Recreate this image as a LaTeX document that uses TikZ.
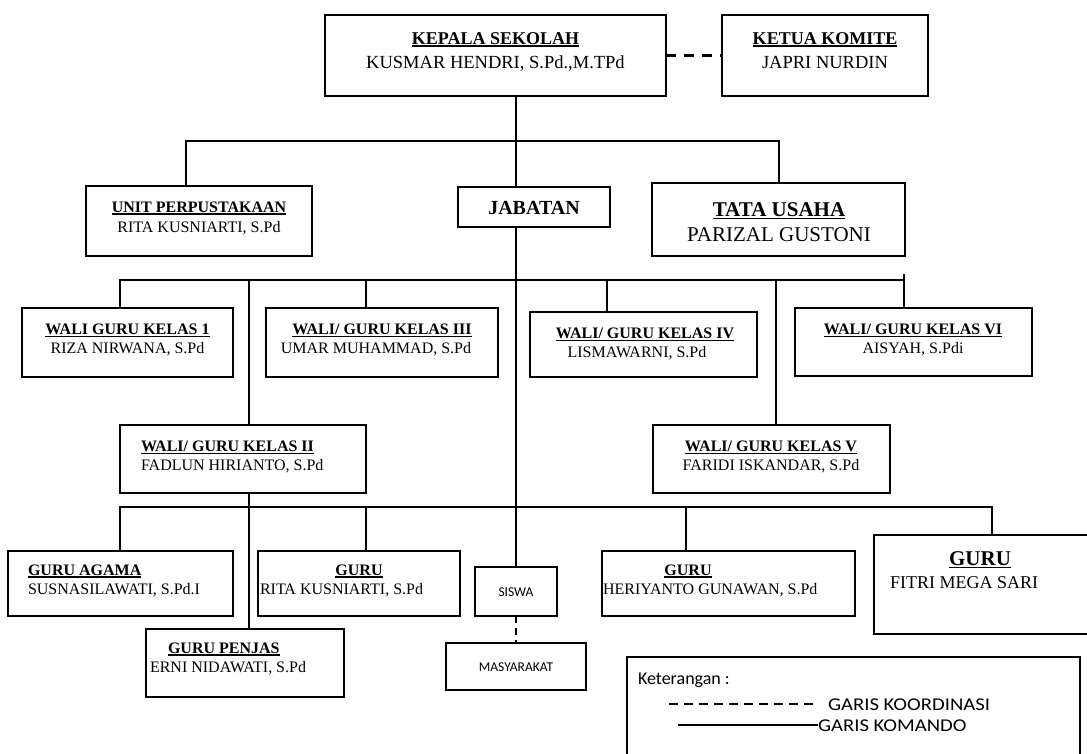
\documentclass[tikz,border=0pt]{standalone}
\usepackage{fontspec}
\usepackage{graphicx}
\setmainfont{Liberation Serif}
\newfontfamily\calfont{Carlito}
\newcommand{\fs}[1]{\fontsize{#1}{#1}\selectfont}
\newcommand{\myul}[1]{\vtop{\hbox{#1}\kern1.3pt\hrule height 1.5pt}}
\newcommand{\boxat}[5]{\node[box, minimum width={#4-#2}, minimum height={#5-#3}] (#1) at ({(#2+#4)/2},{(#3+#5)/2}) {};}
\begin{document}
\begin{tikzpicture}[x=1pt,y=-1pt,
  box/.style={draw, line width=1.8pt, inner sep=0pt, outer sep=0pt},
  conn/.style={line width=1.5pt},
  koord/.style={line width=2.6pt, dash pattern=on 10pt off 8pt},
  koordb/.style={line width=1.4pt, dash pattern=on 7pt off 5pt},
  t/.style={inner sep=0pt, outer sep=0pt, anchor=base},
  tw/.style={inner sep=0pt, outer sep=0pt, anchor=base west},
  hd/.style={font=\fs{16}\bfseries},
  nm/.style={font=\fs{16}},
  cal/.style={font=\calfont\fs{13.5}},
  lg/.style={font=\calfont\fs{18}}
]
\useasboundingbox (0,0) rectangle (1087,753);
\clip (0,0) rectangle (1087,753);

% ---------- boxes ----------
\boxat{kepala}{325}{15}{666}{96}
\boxat{ketua}{722}{15}{928}{96}
\boxat{unit}{86}{186}{312}{256}
\boxat{jab}{458}{187}{610}{227}
\boxat{tata}{652}{183}{905}{256}
\boxat{kA}{22}{308}{233}{377}
\boxat{kC}{266}{308}{498}{377}
\boxat{kD}{530}{312}{757}{377}
\boxat{kF}{795}{308}{1032}{376}
\boxat{kB}{120}{425}{366}{493}
\boxat{kE}{653}{425}{890}{493}
\boxat{agama}{8}{551}{233}{616}
\boxat{rita}{258}{551}{460}{616}
\boxat{siswa}{475}{567}{557}{616}
\boxat{heri}{602}{551}{855}{616}
\boxat{fitri}{874}{535}{1100}{634}
\boxat{penjas}{146}{629}{344}{697}
\boxat{masy}{446}{643}{586}{690}
\boxat{leg}{627}{657}{1080}{780}

% ---------- texts ----------
\node[t,font=\fs{18}\bfseries] (kepalaA) at (495.5,44) {\myul{KEPALA SEKOLAH}};
\node[t,font=\fs{18.5}] (kepalaB) at (495.5,68) {KUSMAR HENDRI, S.Pd.,M.TPd};
\node[t,font=\fs{18}\bfseries] (ketuaA) at (825,44) {\myul{KETUA KOMITE}};
\node[t,font=\fs{18.5}] (ketuaB) at (825,68) {JAPRI NURDIN};

\node[t,hd] (unitA) at (199,212) {\myul{UNIT PERPUSTAKAAN}};
\node[t,nm] (unitB) at (199,232) {RITA KUSNIARTI, S.Pd};
\node[t,font=\fs{20}\bfseries] (jabA) at (534,214) {JABATAN};
\node[t,font=\fs{21}\bfseries] (tataA) at (779,216) {\myul{TATA USAHA}};
\node[t,font=\fs{21}] (tataB) at (779,241) {PARIZAL GUSTONI};

\node[t,hd] (kAa) at (127.5,334) {\myul{WALI GURU KELAS 1}};
\node[t,nm] (kAb) at (127.5,353) {RIZA NIRWANA, S.Pd};
\node[t,hd] (kCa) at (382,334) {\myul{WALI/ GURU KELAS III}};
\node[t,nm] (kCb) at (376,353) {UMAR MUHAMMAD, S.Pd};
\node[t,hd] (kDa) at (645,338) {\myul{WALI/ GURU KELAS IV}};
\node[t,nm] (kDb) at (637,357) {LISMAWARNI, S.Pd};
\node[t,hd] (kFa) at (913,334) {\myul{WALI/ GURU KELAS VI}};
\node[t,nm] (kFb) at (913,353) {AISYAH, S.Pdi};
\node[tw,hd] (kBa) at (141,451) {\myul{WALI/ GURU KELAS II}};
\node[tw,nm] (kBb) at (141,470) {FADLUN HIRIANTO, S.Pd};
\node[t,hd] (kEa) at (771,451) {\myul{WALI/ GURU KELAS V}};
\node[t,nm] (kEb) at (771,470) {FARIDI ISKANDAR, S.Pd};

\node[tw,hd] (agamaA) at (28,575) {\myul{GURU AGAMA}};
\node[tw,nm] (agamaB) at (28,594) {SUSNASILAWATI, S.Pd.I};
\node[t,hd] (ritaA) at (359,575) {\myul{GURU}};
\node[tw,nm] (ritaB) at (260,594) {RITA KUSNIARTI, S.Pd};
\node[t,cal] (siswaA) at (516,596) {SISWA};
\node[t,hd] (heriA) at (688,575) {\myul{GURU}};
\node[tw,nm] (heriB) at (603,594) {HERIYANTO GUNAWAN, S.Pd};
\node[t,font=\fs{21}\bfseries] (fitriA) at (980,565) {\myul{GURU}};
\node[tw,font=\fs{18}] (fitriB) at (890,588) {FITRI MEGA SARI};
\node[tw,hd] (penjasA) at (168,653) {\myul{GURU PENJAS}};
\node[tw,nm] (penjasB) at (150,672) {ERNI NIDAWATI, S.Pd};
\node[t,cal] (masyA) at (516,671) {MASYARAKAT};

\node[tw,lg] (legA) at (638,684) {Keterangan :};
\node[tw,lg] (legB) at (828,710) {\scalebox{1.15}[1]{GARIS KOORDINASI}};
\node[tw,lg] (legC) at (818,731) {\scalebox{1.15}[1]{GARIS KOMANDO}};

% ---------- bus coordinates ----------
\coordinate (m1) at (516,141);
\coordinate (u1) at (186,141);
\coordinate (t1) at (779,141);
\coordinate (r2L) at (120,280);
\coordinate (r2R) at (904,280);
\coordinate (r2T) at (904,274);
\coordinate (c2b) at (249,280);
\coordinate (c2c) at (366,280);
\coordinate (c2d) at (607,280);
\coordinate (c2e) at (776,280);
\coordinate (r3L) at (120,507);
\coordinate (r3R) at (992,507);
\coordinate (c3b) at (249,507);
\coordinate (c3c) at (366,507);
\coordinate (c3d) at (686,507);
\coordinate (lg1) at (669,704);
\coordinate (lg2) at (678,725);

% ---------- connectors ----------
\draw[koord] (kepala.east) -- (ketua.west);
\draw[conn] (kepala.south -| m1) -- (jab.north -| m1);
\draw[conn] (unit.north -| u1) -- (u1) -- (t1) -- (tata.north -| t1);
\draw[conn] (jab.south -| m1) -- (siswa.north);
\draw[conn] (kA.north -| r2L) -- (r2L) -- (r2R);
\draw[conn] (r2T) -- (kF.north -| r2T);
\draw[conn] (c2b) -- (kB.north -| c2b);
\draw[conn] (c2c) -- (kC.north -| c2c);
\draw[conn] (c2d) -- (kD.north -| c2d);
\draw[conn] (c2e) -- (kE.north -| c2e);
\draw[conn] (agama.north -| r3L) -- (r3L) -- (r3R) -- (fitri.north -| r3R);
\draw[conn] (kB.south -| c3b) -- (penjas.north -| c3b);
\draw[conn] (c3c) -- (rita.north -| c3c);
\draw[conn] (c3d) -- (heri.north -| c3d);
\draw[koordb] (siswa.south) -- (masy.north);
\draw[line width=1.3pt, dash pattern=on 9pt off 6pt, shorten >=12pt] (lg1) -- (legB.west |- lg1);
\draw[line width=1.6pt] (lg2) -- (legC.west |- lg2);
\end{tikzpicture}
\end{document}
